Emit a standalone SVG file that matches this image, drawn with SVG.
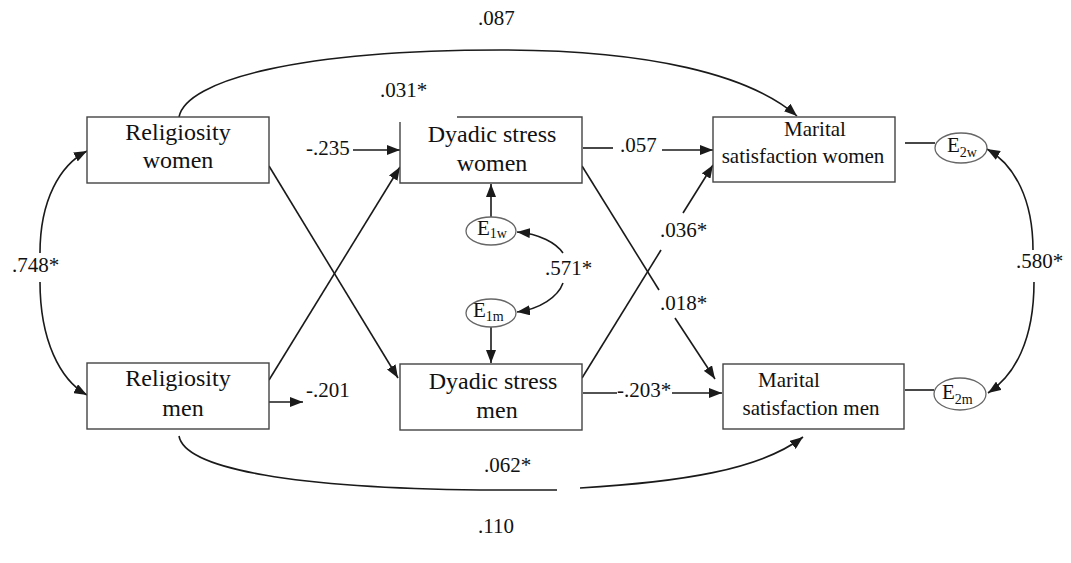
<svg xmlns="http://www.w3.org/2000/svg" width="1071" height="563" viewBox="0 0 1071 563" font-family="Liberation Serif, serif">
<style>
.box{fill:#fff;stroke:#444;stroke-width:1.4}
.ell{fill:#fff;stroke:#666;stroke-width:1.3}
.ln{fill:none;stroke:#1a1a1a;stroke-width:1.6}
.arr{marker-end:url(#ah)}
.nt{font-family:"Liberation Serif",serif;font-size:24px;text-anchor:middle;fill:#111}
.mt{font-family:"Liberation Serif",serif;font-size:21px;text-anchor:middle;fill:#111}
.lb{font-family:"Liberation Serif",serif;font-size:21px;fill:#111}
.sub{font-size:14px}
</style>
<defs>
<marker id="ah" markerUnits="userSpaceOnUse" markerWidth="14" markerHeight="10" refX="13" refY="5" orient="auto">
<path d="M0,0 L13,5 L0,10 z" fill="#1a1a1a"/>
</marker>
</defs>
<rect width="1071" height="563" fill="#fff"/>
<g id="connectors">
<path class="ln arr" d="M179,117 C186,80 300,50 500,50 C650,50 750,75 797,116"/>
<path class="ln" d="M179,436 C185,470 300,488 480,490 C520,490 545,490 557,490"/>
<path class="ln arr" d="M580,488 C680,482 760,470 803,437"/>
<path class="ln arr" d="M40,253 C40,200 60,165 87,151"/>
<path class="ln arr" d="M40,282 C40,340 60,380 87,395"/>
<path class="ln arr" d="M1033,250 C1033,200 1015,165 987,149"/>
<path class="ln arr" d="M1034,282 C1034,340 1015,375 988,393"/>
<path class="ln arr" d="M269,166 L398,378"/>
<path class="ln arr" d="M269,380 L400,167"/>
<path class="ln arr" d="M353,150 L400,150"/>
<path class="ln arr" d="M258,402 L303,402"/>
<path class="ln" d="M583,148 L613,148"/>
<path class="ln arr" d="M662,150 L713,150"/>
<path class="ln" d="M583,393 L617,393"/>
<path class="ln arr" d="M672,393 L722,393"/>
<path class="ln" d="M582,166 L659,290"/>
<path class="ln arr" d="M675,318 L715,379"/>
<path class="ln" d="M582,378 L661,250"/>
<path class="ln arr" d="M683,213 L713,165"/>
<path class="ln arr" d="M491,217 L491,184"/>
<path class="ln arr" d="M491,327 L491,363"/>
<path class="ln arr" d="M563,253 C556,243 540,234 517,232"/>
<path class="ln arr" d="M563,283 C558,297 540,309 517,312"/>
<path class="ln" d="M905,143 L935,143"/>
<path class="ln" d="M905,390 L934,390"/>
<path class="ln" d="M172,159 L202,159" stroke-width="1.2"/>
<path class="ln" d="M166,402 L200,402" stroke-width="1.2"/>
</g>
<g id="rel_women">
<rect class="box" x="87" y="117" width="182" height="66"/>
<text class="nt" x="178" y="140">Religiosity</text>
<text class="nt" x="178" y="168">women</text>
</g>
<g id="rel_men">
<rect class="box" x="87" y="363" width="182" height="66"/>
<text class="nt" x="178" y="386">Religiosity</text>
<text class="nt" x="183" y="416">men</text>
</g>
<g id="ds_women">
<path class="box" d="M457,117 H582 V183 H400 V122"/>
<text class="nt" x="492" y="142">Dyadic stress</text>
<text class="nt" x="492" y="171">women</text>
</g>
<g id="ds_men">
<rect class="box" x="400" y="364" width="182" height="66"/>
<text class="nt" x="493" y="389">Dyadic stress</text>
<text class="nt" x="497" y="418">men</text>
</g>
<g id="ms_women">
<rect class="box" x="713" y="117" width="182" height="65"/>
<text class="mt" x="815" y="136">Marital</text>
<text class="mt" x="803" y="163">satisfaction women</text>
</g>
<g id="ms_men">
<rect class="box" x="723" y="364" width="181" height="65"/>
<text class="mt" x="789" y="387">Marital</text>
<text class="mt" x="811" y="415">satisfaction men</text>
</g>
<g id="e1w">
<ellipse class="ell" cx="491" cy="231" rx="25" ry="14"/>
<text class="lb" x="477" y="235">E<tspan class="sub" dy="3">1w</tspan></text>
</g>
<g id="e1m">
<ellipse class="ell" cx="491" cy="313" rx="25" ry="14"/>
<text class="lb" x="473" y="317">E<tspan class="sub" dy="4">1m</tspan></text>
</g>
<g id="e2w">
<ellipse class="ell" cx="961" cy="148" rx="26" ry="15"/>
<text class="lb" x="947" y="152">E<tspan class="sub" dy="5">2w</tspan></text>
</g>
<g id="e2m">
<ellipse class="ell" cx="960" cy="394" rx="26" ry="16"/>
<text class="lb" x="942" y="399">E<tspan class="sub" dy="5">2m</tspan></text>
</g>
<g id="labels">
<text class="lb" x="478" y="25">.087</text>
<text class="lb" x="380" y="97">.031*</text>
<text class="lb" x="306" y="155">-.235</text>
<text class="lb" x="620" y="152">.057</text>
<text class="lb" x="660" y="237">.036*</text>
<text class="lb" x="545" y="275">.571*</text>
<text class="lb" x="660" y="310">.018*</text>
<text class="lb" x="12" y="272">.748*</text>
<text class="lb" x="1016" y="268">.580*</text>
<text class="lb" x="306" y="397">-.201</text>
<text class="lb" x="617" y="397">-.203*</text>
<text class="lb" x="484" y="472">.062*</text>
<text class="lb" x="478" y="533">.110</text>
</g>
</svg>
